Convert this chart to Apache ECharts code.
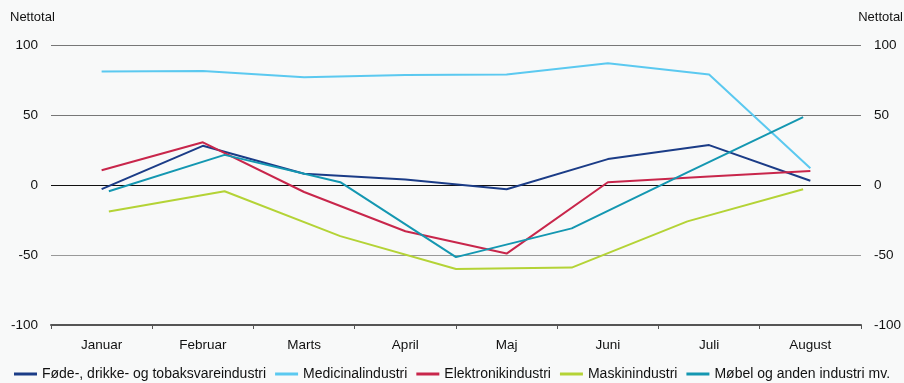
<!DOCTYPE html>
<html>
<head>
<meta charset="utf-8">
<script src="https://cdn.jsdelivr.net/npm/echarts@6/dist/echarts.min.js"></script>
<style>
  html, body { margin: 0; padding: 0; background: #f8f9f9; }
  #chart { width: 904px; height: 383px; }
</style>
</head>
<body>
<div id="chart"></div>
<script>
// kategorier
const months = ['Januar', 'Februar', 'Marts', 'April', 'Maj', 'Juni', 'Juli', 'August']
// to af serierne er tegnet på 7 punkter fordelt over hele bredden
const steps7 = ['1', '2', '3', '4', '5', '6', '7']
const yTicks = [-100, -50, 0, 50, 100]

const foede = [-3, 28, 8, 4, -3, 18.5, 28.5, 3]
const medicinal = [81, 81.5, 77, 78.5, 79, 87, 79, 12]
const elektronik = [10.5, 30.5, -5, -33, -49, 2, 6, 10]
const maskin = [-19, -4.5, -36.5, -60, -59, -26, -3]
const moebel = [-4.5, 21.5, 2, -51.5, -31, 9, 48.5]

const seriesNames = [
  'Føde-, drikke- og tobaksvareindustri',
  'Medicinalindustri',
  'Elektronikindustri',
  'Maskinindustri',
  'Møbel og anden industri mv.'
]
const colors = ['#1b3c87', '#5bc9f0', '#c8264b', '#b4d336', '#1497b1']
const fontFam = 'Liberation Sans, Arial, sans-serif'

const myChart = echarts.init(document.getElementById('chart'))

function yAxisDef (pos) {
  return {
    type: 'value',
    position: pos,
    min: yTicks[0],
    max: yTicks[yTicks.length - 1],
    interval: 50,
    axisLine: { show: false },
    axisTick: { show: false },
    axisLabel: {
      color: '#111',
      fontSize: 13.5,
      fontFamily: fontFam,
      margin: 13
    },
    splitLine: {
      show: pos === 'left',
      lineStyle: {
        // -100, -50, 0, 50, 100
        color: ['#777', '#999', '#111', '#777', '#777'],
        width: 1
      }
    }
  }
}

function lineSeries (i, data, xIdx) {
  return {
    name: seriesNames[i],
    type: 'line',
    xAxisIndex: xIdx,
    data: data,
    symbol: 'none',
    lineStyle: { width: 2, color: colors[i] },
    itemStyle: { color: colors[i] },
    z: 3
  }
}

const option = {
  backgroundColor: '#f8f9f9',
  animation: false,
  color: colors,
  grid: { left: 51, right: 41, top: 45, bottom: 58, containLabel: false },
  legend: {
    top: 362,
    left: 'center',
    icon: 'rect',
    itemWidth: 23,
    itemHeight: 3,
    itemGap: 9,
    textStyle: {
      color: '#111',
      fontSize: 14,
      fontFamily: fontFam
    },
    data: seriesNames
  },
  graphic: [
    {
      type: 'text', left: 10, top: 11,
      style: { text: 'Nettotal', fill: '#111', font: '13px Liberation Sans, Arial, sans-serif' }
    },
    {
      type: 'text', right: 1, top: 11,
      style: { text: 'Nettotal', fill: '#111', font: '13px Liberation Sans, Arial, sans-serif' }
    }
  ],
  xAxis: [
    {
      type: 'category',
      data: months,
      boundaryGap: true,
      position: 'bottom',
      axisLine: { onZero: false, lineStyle: { color: '#555', width: 2 } },
      axisTick: { show: true, length: 4, lineStyle: { color: '#555' } },
      axisLabel: {
        color: '#111',
        fontSize: 13.5,
        fontFamily: fontFam,
        margin: 13
      },
      splitLine: { show: false }
    },
    {
      type: 'category',
      data: steps7,
      boundaryGap: true,
      position: 'top',
      show: false
    }
  ],
  yAxis: [yAxisDef('left'), yAxisDef('right')],
  series: [
    lineSeries(0, foede, 0),
    lineSeries(1, medicinal, 0),
    lineSeries(2, elektronik, 0),
    lineSeries(3, maskin, 1),
    lineSeries(4, moebel, 1)
  ]
}

myChart.setOption(option)
window.addEventListener('resize', function () {
  myChart.resize()
})
</script>
</body>
</html>
